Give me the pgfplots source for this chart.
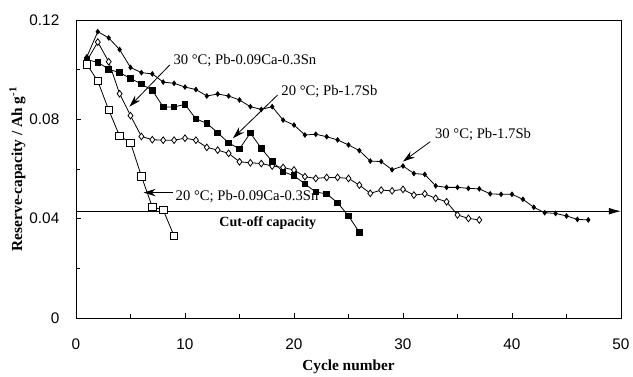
\documentclass[border=0pt]{standalone}
\usepackage{fontspec}
\setmainfont{Liberation Serif}
\setsansfont{Liberation Sans}
\usepackage{pgfplots}
\pgfplotsset{compat=1.18}
\usetikzlibrary{arrows.meta}
\begin{document}
\begin{tikzpicture}[x=0.75pt,y=0.75pt]
\useasboundingbox (-76,-59) rectangle (557,318);
\begin{axis}[
  at={(0,0)}, anchor=south west,
  scale only axis, width=408.75pt, height=223.5pt,
  xmin=0, xmax=50, ymin=0, ymax=0.12,
  xtick={0,10,20,30,40,50}, minor xtick={5,15,25,35,45},
  ytick={0,0.04,0.08,0.12}, yticklabels={0,0.04,0.08,0.12},
  minor ytick={0.02,0.06,0.10},
  scaled y ticks=false,
  tick pos=left, tick align=inside,
  major tick length=4pt, minor tick length=3pt,
  tick style={black, line width=0.5pt},
  axis line style={line width=0.6pt},
  /pgf/number format/assume math mode=true,
  ticklabel style={font=\sffamily\fontsize{11.5}{13}\selectfont},
  xticklabel style={yshift=-12pt},
  yticklabel style={xshift=-9pt},
  xlabel={\textbf{Cycle number}},
  ylabel={\textbf{Reserve-capacity / Ah g\textsuperscript{-1}}},
  label style={font=\fontsize{11.5}{13}\selectfont},
  xlabel style={yshift=-1pt},
  ylabel style={yshift=-4pt},
  every axis plot/.append style={black, line width=0.6pt},
  clip=false,
]
% 30 C Pb-1.7Sb
\addplot[mark=diamond*, mark size=1.7pt, mark options={fill=black}] coordinates {
(1,0.1052)(2,0.1153)(3,0.1128)(4,0.1081)(5,0.1009)(6,0.0988)(7,0.0983)(8,0.0950)(9,0.0945)(10,0.0930)
(11,0.0920)(12,0.0894)(13,0.0902)(14,0.0894)(15,0.0878)(16,0.0851)(17,0.0840)(18,0.0851)(19,0.0797)(20,0.0777)
(21,0.0737)(22,0.0740)(23,0.0730)(24,0.0717)(25,0.0697)(26,0.0674)(27,0.0632)(28,0.0630)(29,0.0597)(30,0.0612)
(31,0.0582)(32,0.0578)(33,0.0532)(34,0.0526)(35,0.0526)(36,0.0522)(37,0.0520)(38,0.0500)(39,0.0498)(40,0.0498)
(41,0.0478)(42,0.0446)(43,0.0424)(44,0.0421)(45,0.0411)(46,0.0397)(47,0.0395)};
% 30 C Pb-0.09Ca-0.3Sn
\addplot[mark=diamond*, mark size=2.5pt, mark options={fill=white}] coordinates {
(1,0.1036)(2,0.1111)(3,0.1032)(4,0.0903)(5,0.0815)(6,0.0731)(7,0.0718)(8,0.0716)(9,0.0716)(10,0.0724)
(11,0.0716)(12,0.0687)(13,0.0676)(14,0.0663)(15,0.0629)(16,0.0625)(17,0.0622)(18,0.0612)(19,0.0606)(20,0.0596)
(21,0.0569)(22,0.0562)(23,0.0566)(24,0.0566)(25,0.0562)(26,0.0535)(27,0.0502)(28,0.0515)(29,0.0512)(30,0.0518)
(31,0.0495)(32,0.0500)(33,0.0482)(34,0.0468)(35,0.0415)(36,0.0401)(37,0.0395)};
% 20 C Pb-1.7Sb
\addplot[mark=square*, mark size=2.1pt, mark options={fill=black}] coordinates {
(1,0.1040)(2,0.1030)(3,0.1002)(4,0.0988)(5,0.0965)(6,0.0942)(7,0.0917)(8,0.0850)(9,0.0850)(10,0.0860)
(11,0.0802)(12,0.0784)(13,0.0746)(14,0.0705)(15,0.0681)(16,0.0745)(17,0.0683)(18,0.0630)(19,0.0589)(20,0.0573)
(21,0.0540)(22,0.0507)(23,0.0500)(24,0.0464)(25,0.0411)(26,0.0345)};
% 20 C Pb-0.09Ca-0.3Sn
\addplot[mark=square*, mark size=2.8pt, mark options={fill=white}] coordinates {
(1,0.1021)(2,0.0954)(3,0.0838)(4,0.0733)(5,0.0706)(6,0.0571)(7,0.0447)(8,0.0435)(9,0.0330)};
% cut-off line
\draw[line width=0.6pt, -{Latex[length=9pt,width=5pt]}] (axis cs:0,0.043) -- (axis cs:50,0.043);
\node[font=\bfseries\fontsize{10.5}{12}\selectfont] at (axis cs:17.6,0.0383) {Cut-off capacity};
% annotations
\tikzset{ann/.style={line width=0.6pt, -{Stealth[length=9pt,width=5.5pt]}}}
\draw[ann] (axis cs:8.6,0.1019) -- (axis cs:4.9,0.0851);
\node[anchor=west, font=\fontsize{11}{12}\selectfont, inner sep=1pt] at (axis cs:8.8,0.1035) {30~°C; Pb-0.09Ca-0.3Sn};
\draw[ann] (axis cs:18.5,0.0898) -- (axis cs:14.4,0.0724);
\node[anchor=west, font=\fontsize{11}{12}\selectfont, inner sep=1pt] at (axis cs:18.7,0.0912) {20~°C; Pb-1.7Sb};
\draw[ann] (axis cs:32.5,0.0710) -- (axis cs:30.0,0.0630);
\node[anchor=west, font=\fontsize{11}{12}\selectfont, inner sep=1pt] at (axis cs:32.8,0.0737) {30~°C; Pb-1.7Sb};
\draw[ann] (axis cs:8.9,0.0505) -- (axis cs:6.2,0.0505);
\node[anchor=west, font=\fontsize{11}{12}\selectfont, inner sep=1pt] at (axis cs:9.0,0.0491) {20~°C; Pb-0.09Ca-0.3Sn};
\end{axis}
\end{tikzpicture}
\end{document}
